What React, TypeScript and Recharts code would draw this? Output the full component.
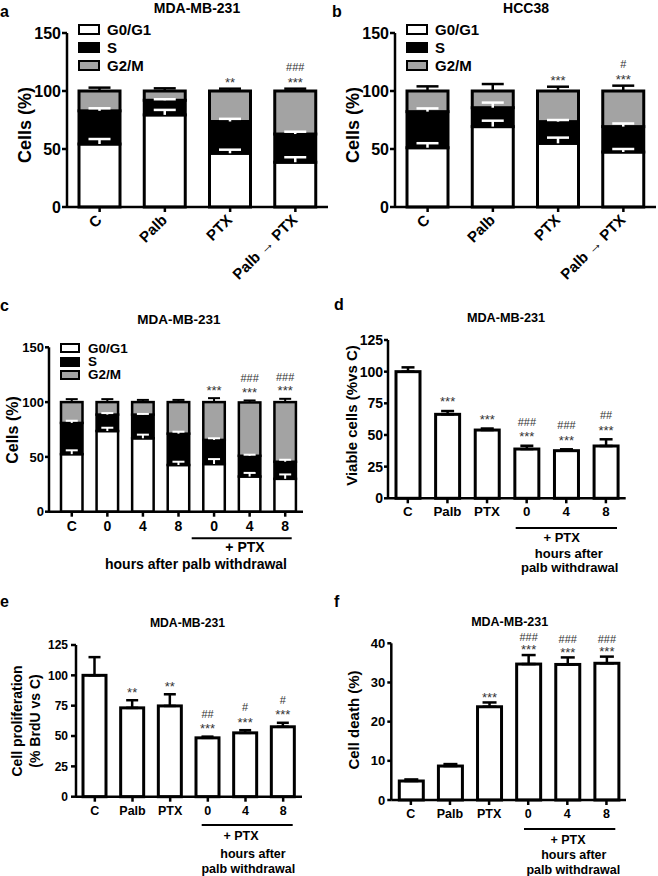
import React from 'react';
import { BarChart, Bar, XAxis, YAxis, ErrorBar, Legend } from 'recharts';

const FONT = '"Liberation Sans", Arial, Helvetica, sans-serif';

// ---------- cell-cycle phases ----------
const phaseNames = ['G0/G1', 'S', 'G2/M'];
const phaseKeys = ['g0', 's', 'g2'];
const phaseFills = ['#ffffff', '#000000', '#a3a3a3'];

// ---------- panel a : MDA-MB-231 ----------
const abCategories = ['C', 'Palb', 'PTX', 'Palb → PTX'];
const aG0G1 = [54.3, 79.4, 46.3, 38.6];
const aS = [28.6, 12.6, 27.4, 24.3];
const aG2M = [17.1, 8.0, 26.3, 37.1];
const aErrG0G1 = [4.3, 4.3, 3.1, 4.3];
const aErrS = [2.2, 0.9, 2.3, 2.0];
const aErrTotal = [2.9, 2.3, 2.0, 2.0];
const aStars = ['', '', '**', '***'];
const aHashes = ['', '', '', '###'];

// ---------- panel b : HCC38 ----------
const bG0G1 = [51.1, 69.3, 54.9, 47.4];
const bS = [31.1, 16.3, 18.7, 21.9];
const bG2M = [17.8, 14.4, 26.4, 30.7];
const bErrG0G1 = [3.9, 5.1, 4.9, 2.6];
const bErrS = [2.8, 4.4, 1.4, 2.7];
const bErrTotal = [4.0, 6.0, 3.7, 4.6];
const bStars = ['', '', '***', '***'];
const bHashes = ['', '', '', '#'];

// ---------- panel c : MDA-MB-231, hours after palb withdrawal ----------
const cCategories = ['C', '0', '4', '8', '0', '4', '8'];
const cG0G1 = [52.5, 73.6, 67.0, 42.6, 43.5, 32.1, 30.0];
const cS = [28.5, 15.0, 21.6, 28.6, 22.0, 18.9, 15.6];
const cG2M = [19.0, 11.4, 11.4, 28.8, 34.5, 48.7, 54.4];
const cErrG0G1 = [3.5, 3.0, 3.3, 3.0, 4.5, 3.3, 4.0];
const cErrS = [2.0, 1.4, 0.6, 1.8, 1.5, 1.0, 1.8];
const cErrTotal = [2.7, 2.7, 2.0, 2.0, 3.6, 1.8, 3.0];
const cStars = ['', '', '', '', '***', '***', '***'];
const cHashes = ['', '', '', '', '', '###', '###'];

// ---------- panels d, e, f ----------
const defCategories = ['C', 'Palb', 'PTX', '0', '4', '8'];
const dViable = [100, 66.3, 53.9, 38.9, 37.6, 41.3];
const dErr = [3.4, 2.6, 1.2, 2.6, 1.1, 5.3];
const dStars = ['', '***', '***', '***', '***', '***'];
const dHashes = ['', '', '', '###', '###', '##'];

const eProlif = [100, 73.2, 74.8, 48.5, 52.6, 57.6];
const eErr = [15, 6.3, 9.6, 1.0, 2.2, 3.3];
const eStars = ['', '**', '**', '***', '***', '***'];
const eHashes = ['', '', '', '##', '#', '#'];

const fDeath = [4.85, 8.67, 23.8, 34.7, 34.6, 34.9];
const fErr = [0.4, 0.5, 1.1, 2.3, 1.8, 1.7];
const fStars = ['', '', '***', '***', '***', '***'];
const fHashes = ['', '', '', '###', '###', '###'];

const abTicks = [0, 50, 100, 150];
const cTicks = [0, 50, 100, 150];
const deTicks = [0, 25, 50, 75, 100, 125];
const fTicks = [0, 10, 20, 30, 40];

// ---------- row builders ----------
function cycleRows(labels: string[], g0: number[], s: number[], g2: number[], e0: number[], eS: number[], eT: number[], stars: string[], hashes: string[]) {
  return labels.map((label, i) => ({
    id: `${i}:${label}`,
    g0: g0[i], s: s[i], g2: g2[i],
    errG0: e0[i], errS: eS[i], errTotal: eT[i],
    star: stars[i], hash: hashes[i],
  }));
}
function simpleRows(labels: string[], vals: number[], errs: number[], stars: string[], hashes: string[]) {
  return labels.map((label, i) => ({
    id: `${i}:${label}`, value: vals[i], err: errs[i], star: stars[i], hash: hashes[i],
  }));
}
const labelOf = (v: any) => { const s = String(v); return s.slice(s.indexOf(':') + 1); };

// ---------- drawing helpers ----------
function sigMarks(cx: number, top: number, star: string, hash: string, cfg: any) {
  const out: any[] = [];
  const starCenter = top - cfg.starOff;
  if (star) out.push(
    <text key="st" x={cx} y={starCenter + cfg.starFs * 0.57} textAnchor="middle" fontSize={cfg.starFs} fill="#333" fontFamily={FONT}>{star}</text>
  );
  if (hash) out.push(
    <text key="ha" x={cx} y={starCenter - cfg.lineGap + cfg.hashFs * 0.36} textAnchor="middle" fontSize={cfg.hashFs} fill="#333" fontFamily={FONT}>{hash}</text>
  );
  return out;
}

function errMark(key: string, cx: number, base: number, len: number, color: string, cfg: any) {
  const t = base - len;
  return [
    <line key={key + 's'} x1={cx} x2={cx} y1={base} y2={t} stroke={color} strokeWidth={cfg.errW} />,
    <line key={key + 'c'} x1={cx - cfg.capHalf} x2={cx + cfg.capHalf} y1={t} y2={t} stroke={color} strokeWidth={cfg.errW} />,
  ];
}

function makeSegShape(kind: string, fill: string, cfg: any) {
  return (props: any) => {
    const { x, y, width, height, payload } = props;
    if (x == null || width == null || height == null) return <g />;
    const cx = x + width / 2;
    const segVal = payload[kind];
    const pxPer = segVal ? height / segVal : 0;
    const parts: any[] = [
      <rect key="r" x={x} y={y} width={width} height={height} fill={fill} stroke="#000" strokeWidth={cfg.strokeW} />,
    ];
    if (kind === 's') parts.push(...errMark('g0', cx, y + height, payload.errG0 * pxPer, '#fff', cfg));
    if (kind === 'g2') {
      parts.push(...errMark('s', cx, y + height, payload.errS * pxPer, '#fff', cfg));
      const tl = payload.errTotal * pxPer;
      parts.push(...errMark('t', cx, y, tl, '#000', cfg));
      parts.push(...sigMarks(cx, y - tl, payload.star, payload.hash, cfg));
    }
    return <g>{parts}</g>;
  };
}

function makeSimpleShape(cfg: any) {
  return (props: any) => {
    const { x, y, width, height, payload } = props;
    if (x == null || width == null || height == null) return <g />;
    const cx = x + width / 2;
    const pxPer = payload.value ? height / payload.value : 0;
    const top = y - payload.err * pxPer;
    return (
      <g>
        <rect x={x} y={y} width={width} height={height} fill="#fff" stroke="#000" strokeWidth={cfg.strokeW} />
        {sigMarks(cx, top, payload.star, payload.hash, cfg)}
      </g>
    );
  };
}

function RotatedTick(props: any) {
  const { x, y, payload, fs } = props;
  const ax = x + 3;
  const ay = y + 7;
  return (
    <text x={ax} y={ay} transform={`rotate(-45 ${ax} ${ay})`} textAnchor="end" fontSize={fs} fontWeight="bold" fontFamily={FONT} fill="#000">
      {labelOf(payload.value)}
    </text>
  );
}

function PhaseLegend({ cfg }: any) {
  return (
    <div style={{ fontFamily: FONT, fontWeight: 'bold', fontSize: cfg.fs, color: '#000', lineHeight: 1 }}>
      {phaseNames.map((name, i) => (
        <div key={name} style={{ display: 'flex', alignItems: 'center', height: cfg.rowH }}>
          <span style={{ display: 'inline-block', width: cfg.boxW, height: cfg.boxH, background: phaseFills[i], border: '2.5px solid #000', boxSizing: 'border-box', marginRight: cfg.gap }} />
          <span>{name}</span>
        </div>
      ))}
    </div>
  );
}

const axisStroke = { stroke: '#000', strokeWidth: 2.5 };

function StackedPanel({ cfg, rows }: any) {
  return (
    <div style={{ position: 'absolute', left: cfg.left, top: cfg.top, width: cfg.width, height: cfg.height }}>
      <BarChart width={cfg.width} height={cfg.height} data={rows} margin={cfg.margin}>
        <XAxis
          dataKey="id"
          interval={0}
          height={cfg.xAxisHeight}
          padding={{ left: cfg.padLeft, right: 0 }}
          axisLine={axisStroke}
          tickLine={axisStroke}
          tickSize={5}
          tickMargin={cfg.xTickMargin}
          tick={cfg.rotated
            ? (p: any) => <RotatedTick {...p} fs={cfg.xTickFs} />
            : { fill: '#000', fontSize: cfg.xTickFs, fontWeight: 700, fontFamily: FONT }}
          tickFormatter={labelOf}
        />
        <YAxis
          domain={[0, 150]}
          ticks={cfg.ticks}
          width={cfg.yAxisWidth}
          axisLine={axisStroke}
          tickLine={axisStroke}
          tickSize={cfg.yTickSize}
          tickMargin={cfg.yTickMargin}
          tick={{ fill: '#000', fontSize: cfg.yTickFs, fontWeight: 700, fontFamily: FONT }}
          interval={0}
        />
        {phaseKeys.map((k, i) => (
          <Bar
            key={k}
            dataKey={k}
            name={phaseNames[i]}
            stackId="cycle"
            fill={phaseFills[i]}
            barSize={cfg.barSize}
            shape={makeSegShape(k, phaseFills[i], cfg)}
            isAnimationActive={false}
          />
        ))}
        <Legend
          layout="vertical"
          align="center"
          verticalAlign="middle"
          wrapperStyle={{ left: cfg.legend.left, top: cfg.legend.top, width: 'auto', height: 'auto' }}
          content={() => <PhaseLegend cfg={cfg.legend} />}
        />
      </BarChart>
    </div>
  );
}

function SimplePanel({ cfg, rows }: any) {
  return (
    <div style={{ position: 'absolute', left: cfg.left, top: cfg.top, width: cfg.width, height: cfg.height }}>
      <BarChart width={cfg.width} height={cfg.height} data={rows} margin={cfg.margin}>
        <XAxis
          dataKey="id"
          interval={0}
          height={cfg.xAxisHeight}
          padding={{ left: 0, right: 0 }}
          axisLine={axisStroke}
          tickLine={axisStroke}
          tickSize={5}
          tickMargin={cfg.xTickMargin}
          tick={{ fill: '#000', fontSize: cfg.xTickFs, fontWeight: 700, fontFamily: FONT }}
          tickFormatter={labelOf}
        />
        <YAxis
          domain={cfg.domain}
          ticks={cfg.ticks}
          width={cfg.yAxisWidth}
          axisLine={axisStroke}
          tickLine={axisStroke}
          tickSize={cfg.yTickSize}
          tickMargin={cfg.yTickMargin}
          tick={{ fill: '#000', fontSize: cfg.yTickFs, fontWeight: 700, fontFamily: FONT }}
          interval={0}
        />
        <Bar dataKey="value" fill="#fff" barSize={cfg.barSize} shape={makeSimpleShape(cfg)} isAnimationActive={false}>
          <ErrorBar dataKey={(d: any) => [0, d.err]} direction="y" width={cfg.capHalf} stroke="#000" strokeWidth={cfg.errW} />
        </Bar>
      </BarChart>
    </div>
  );
}

// ---------- panel configurations (layout only) ----------
const cfgA = {
  left: 0, top: 0, width: 335, height: 290,
  margin: { top: 33, right: 7, bottom: 0, left: 0 },
  yAxisWidth: 67, xAxisHeight: 83, padLeft: 0, barSize: 41,
  strokeW: 3, errW: 2.5, capHalf: 11,
  ticks: abTicks, yTickFs: 16, yTickSize: 5, yTickMargin: 1,
  xTickFs: 15, xTickMargin: 2, rotated: true,
  legend: { left: 78, top: 20, fs: 15, boxW: 22, boxH: 11, rowH: 18, gap: 7 },
  starFs: 13, hashFs: 11, starOff: 9, lineGap: 13,
};
const cfgB = { ...cfgA, left: 328, width: 330, margin: { top: 33, right: 2, bottom: 0, left: 0 } };
const cfgC = {
  left: 0, top: 300, width: 310, height: 235,
  margin: { top: 47.3, right: 7, bottom: 0, left: 0 },
  yAxisWidth: 49, xAxisHeight: 23.3, padLeft: 5, barSize: 21.5,
  strokeW: 2.5, errW: 2, capHalf: 6,
  ticks: cTicks, yTickFs: 13, yTickSize: 4, yTickMargin: 1,
  xTickFs: 14, xTickMargin: 4, rotated: false,
  legend: { left: 60, top: 41.6, fs: 13.5, boxW: 20, boxH: 10, rowH: 13.3, gap: 8 },
  starFs: 13, hashFs: 11, starOff: 11, lineGap: 11,
};
const cfgD = {
  left: 328, top: 300, width: 305, height: 222,
  margin: { top: 40, right: 7.3, bottom: 0, left: 0 },
  yAxisWidth: 60, xAxisHeight: 23.7, barSize: 24,
  strokeW: 3, errW: 2.5, capHalf: 6.5,
  domain: [0, 125], ticks: deTicks, yTickFs: 14, yTickSize: 4, yTickMargin: 1,
  xTickFs: 13.3, xTickMargin: 3.7,
  starFs: 13, hashFs: 11, starOff: 12, lineGap: 12,
};
const cfgE = {
  left: 0, top: 610, width: 310, height: 210,
  margin: { top: 35, right: 8, bottom: 0, left: 0 },
  yAxisWidth: 76, xAxisHeight: 23.3, barSize: 23,
  strokeW: 3, errW: 2.5, capHalf: 6,
  domain: [0, 125], ticks: deTicks, yTickFs: 12, yTickSize: 5, yTickMargin: 3,
  xTickFs: 12.5, xTickMargin: 4.5,
  starFs: 13, hashFs: 11, starOff: 11, lineGap: 12,
};
const cfgF = {
  left: 328, top: 610, width: 305, height: 210,
  margin: { top: 33.3, right: 7, bottom: 0, left: 0 },
  yAxisWidth: 63.3, xAxisHeight: 20, barSize: 24,
  strokeW: 3, errW: 2.5, capHalf: 7,
  domain: [0, 40], ticks: fTicks, yTickFs: 13, yTickSize: 4, yTickMargin: 2,
  xTickFs: 12.5, xTickMargin: 4.5,
  starFs: 13, hashFs: 11, starOff: 8, lineGap: 10,
};

// ---------- free text (titles, panel letters, axis titles, group labels) ----------
function Txt({ x, y, s, fs, anchor = 'middle', rot = false }: any) {
  return (
    <text
      x={x} y={y} fontSize={fs} fontWeight="bold" fontFamily={FONT} fill="#000"
      textAnchor={anchor}
      dominantBaseline={rot ? 'central' : undefined}
      transform={rot ? `rotate(-90 ${x} ${y})` : undefined}
    >{s}</text>
  );
}

function Overlay() {
  return (
    <svg width={658} height={876} style={{ position: 'absolute', left: 0, top: 0, pointerEvents: 'none' }}>
      {/* panel letters */}
      <Txt x={0} y={17} s="a" fs={16} anchor="start" />
      <Txt x={332} y={17} s="b" fs={16} anchor="start" />
      <Txt x={0} y={311} s="c" fs={16} anchor="start" />
      <Txt x={334} y={310} s="d" fs={16} anchor="start" />
      <Txt x={0} y={607} s="e" fs={16} anchor="start" />
      <Txt x={334} y={607} s="f" fs={16} anchor="start" />
      {/* titles */}
      <Txt x={197} y={13} s="MDA-MB-231" fs={14} />
      <Txt x={526} y={13} s="HCC38" fs={14} />
      <Txt x={179} y={324} s="MDA-MB-231" fs={13.5} />
      <Txt x={506} y={322} s="MDA-MB-231" fs={12.7} />
      <Txt x={187.5} y={627} s="MDA-MB-231" fs={12.2} />
      <Txt x={509.7} y={626} s="MDA-MB-231" fs={12.5} />
      {/* y axis titles */}
      <Txt x={25} y={125} s="Cells (%)" fs={18} rot />
      <Txt x={353} y={125} s="Cells (%)" fs={18} rot />
      <Txt x={12} y={430} s="Cells (%)" fs={16} rot />
      <Txt x={351} y={415.5} s="Viable cells (%vs C)" fs={15} rot />
      <Txt x={17} y={721} s="Cell proliferation" fs={14} rot />
      <Txt x={35} y={721} s="(% BrdU vs C)" fs={14} rot />
      <Txt x={353} y={720} s="Cell death (%)" fs={15} rot />
      {/* c group */}
      <line x1={191.7} x2={291.7} y1={538.3} y2={538.3} stroke="#000" strokeWidth={2} />
      <Txt x={245} y={552.3} s="+ PTX" fs={14} />
      <Txt x={196} y={569} s="hours after palb withdrawal" fs={14} />
      {/* d group */}
      <line x1={515.7} x2={617} y1={528} y2={528} stroke="#000" strokeWidth={2} />
      <Txt x={561.7} y={541.5} s="+ PTX" fs={13} />
      <Txt x={568.8} y={557.5} s="hours after" fs={13} />
      <Txt x={569.7} y={572} s="palb withdrawal" fs={13} />
      {/* e group */}
      <line x1={201.7} x2={292.7} y1={825} y2={825} stroke="#000" strokeWidth={2} />
      <Txt x={241} y={840.3} s="+ PTX" fs={12.5} />
      <Txt x={253} y={858} s="hours after" fs={12.5} />
      <Txt x={248.3} y={873} s="palb withdrawal" fs={12.5} />
      {/* f group */}
      <line x1={524} x2={615.3} y1={829} y2={829} stroke="#000" strokeWidth={2} />
      <Txt x={568} y={843.5} s="+ PTX" fs={12.5} />
      <Txt x={573.8} y={858.5} s="hours after" fs={12.5} />
      <Txt x={573.3} y={873.5} s="palb withdrawal" fs={12.5} />
    </svg>
  );
}

export default function App() {
  const rowsA = cycleRows(abCategories, aG0G1, aS, aG2M, aErrG0G1, aErrS, aErrTotal, aStars, aHashes);
  const rowsB = cycleRows(abCategories, bG0G1, bS, bG2M, bErrG0G1, bErrS, bErrTotal, bStars, bHashes);
  const rowsC = cycleRows(cCategories, cG0G1, cS, cG2M, cErrG0G1, cErrS, cErrTotal, cStars, cHashes);
  const rowsD = simpleRows(defCategories, dViable, dErr, dStars, dHashes);
  const rowsE = simpleRows(defCategories, eProlif, eErr, eStars, eHashes);
  const rowsF = simpleRows(defCategories, fDeath, fErr, fStars, fHashes);
  return (
    <div style={{ position: 'absolute', left: 0, top: 0, width: 658, height: 876, background: '#fff', overflow: 'hidden' }}>
      <StackedPanel cfg={cfgA} rows={rowsA} />
      <StackedPanel cfg={cfgB} rows={rowsB} />
      <StackedPanel cfg={cfgC} rows={rowsC} />
      <SimplePanel cfg={cfgD} rows={rowsD} />
      <SimplePanel cfg={cfgE} rows={rowsE} />
      <SimplePanel cfg={cfgF} rows={rowsF} />
      <Overlay />
    </div>
  );
}
